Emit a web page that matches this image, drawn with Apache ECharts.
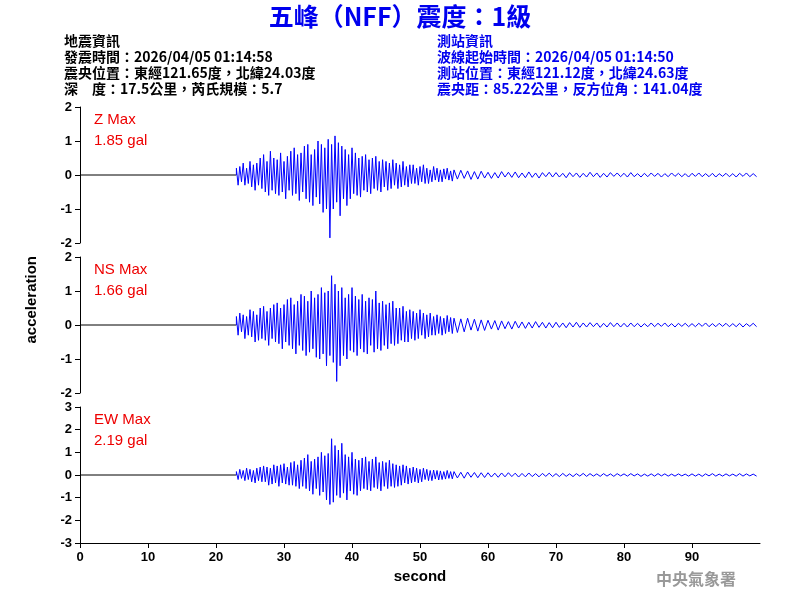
<!DOCTYPE html>
<html><head><meta charset="utf-8">
<script src="https://cdn.jsdelivr.net/npm/echarts@6/dist/echarts.min.js"></script>
<style>html,body{margin:0;padding:0;background:#fff}#c{width:800px;height:600px}</style>
</head><body><div id="c"></div>
<script>
// fine samples: t = 23 .. 54.75 step 0.25 ; coarse samples: t = 55 .. 99.5 step 0.5
const fineStart = 23, fineStep = 0.25, coarseStart = 55, coarseStep = 0.5;
const zFine = [0.2,-0.3,0.25,-0.2,0.35,-0.3,0.2,-0.25, 0.4,-0.35,0.3,-0.45,0.35,-0.3,0.5,-0.4,
0.6,-0.5,0.4,-0.6,0.7,-0.45,0.5,-0.55, 0.45,-0.6,0.65,-0.5,0.4,-0.7,0.55,-0.45,
0.7,-0.6,0.8,-0.55,0.6,-0.75,0.65,-0.5, 0.85,-0.7,0.9,-0.8,0.6,-0.9,0.75,-0.65,
1.0,-0.85,0.9,-1.1,0.8,-1.0,1.05,-1.85, 0.9,-1.0,1.15,-0.8,0.95,-1.2,0.85,-0.7,
0.75,-0.9,0.6,-0.7,0.8,-0.55,0.65,-0.6, 0.5,-0.65,0.55,-0.45,0.6,-0.5,0.45,-0.55,
0.5,-0.4,0.55,-0.45,0.4,-0.5,0.45,-0.35, 0.4,-0.45,0.35,-0.4,0.45,-0.3,0.35,-0.4,
0.3,-0.35,0.4,-0.3,0.25,-0.35,0.3,-0.25, 0.3,-0.25,0.2,-0.3,0.25,-0.2,0.3,-0.25,
0.2,-0.25,0.15,-0.2,0.25,-0.15,0.2,-0.2, 0.15,-0.2,0.18,-0.12,0.2,-0.15,0.12,-0.18];
const zCoarse = [0.15,-0.12,0.14,-0.1,0.12,-0.13,0.1,-0.12,0.11,-0.09,
0.08,-0.1,0.07,-0.09,0.1,-0.06,0.08,-0.07,0.09,-0.08, 0.06,-0.08,0.09,-0.07,0.06,-0.09,0.07,-0.05,0.08,-0.06,
0.07,-0.06,0.05,-0.08,0.07,-0.05,0.06,-0.07,0.05,-0.06, 0.08,-0.05,0.06,-0.07,0.05,-0.06,0.07,-0.04,0.06,-0.05,
0.05,-0.06,0.07,-0.05,0.04,-0.06,0.05,-0.05,0.06,-0.04, 0.05,-0.06,0.04,-0.05,0.06,-0.04,0.05,-0.05,0.04,-0.06,
0.05,-0.04,0.06,-0.05,0.04,-0.05,0.05,-0.06,0.04,-0.04, 0.05,-0.05,0.04,-0.06,0.05,-0.04,0.06,-0.05,0.04,-0.05];
const nsFine = [0.25,-0.3,0.35,-0.2,0.3,-0.4,0.25,-0.3, 0.45,-0.35,0.4,-0.5,0.3,-0.45,0.5,-0.4,
0.55,-0.45,0.4,-0.6,0.5,-0.4,0.6,-0.5, 0.65,-0.55,0.5,-0.7,0.6,-0.5,0.75,-0.6,
0.8,-0.7,0.6,-0.85,0.7,-0.6,0.9,-0.75, 0.85,-0.9,0.7,-0.8,1.0,-0.7,0.8,-0.95,
0.9,-1.0,1.1,-0.85,0.95,-1.2,1.0,-0.9, 1.45,-1.1,1.2,-1.66,1.0,-1.2,1.1,-0.9,
0.8,-1.0,0.9,-0.75,1.1,-0.8,0.85,-0.9, 0.75,-0.7,0.9,-0.8,0.7,-0.85,0.8,-0.6,
0.75,-0.8,1.0,-0.7,0.65,-0.75,0.7,-0.6, 0.6,-0.7,0.65,-0.55,0.7,-0.6,0.5,-0.55,
0.5,-0.45,0.55,-0.5,0.4,-0.5,0.45,-0.4, 0.4,-0.45,0.35,-0.4,0.45,-0.3,0.35,-0.4,
0.3,-0.35,0.35,-0.3,0.25,-0.3,0.3,-0.25, 0.25,-0.3,0.2,-0.25,0.28,-0.2,0.22,-0.25];
const nsCoarse = [0.2,-0.22,0.18,-0.2,0.2,-0.15,0.17,-0.18,0.15,-0.16,
0.14,-0.12,0.13,-0.15,0.12,-0.11,0.1,-0.12,0.11,-0.09, 0.09,-0.1,0.08,-0.09,0.1,-0.07,0.08,-0.09,0.07,-0.08,
0.08,-0.07,0.06,-0.08,0.07,-0.06,0.08,-0.07,0.06,-0.06, 0.07,-0.05,0.06,-0.07,0.05,-0.06,0.07,-0.05,0.06,-0.06,
0.05,-0.06,0.06,-0.05,0.05,-0.06,0.04,-0.05,0.06,-0.05, 0.05,-0.04,0.06,-0.05,0.04,-0.06,0.05,-0.04,0.05,-0.05,
0.04,-0.05,0.05,-0.04,0.06,-0.05,0.04,-0.05,0.05,-0.04, 0.05,-0.05,0.04,-0.05,0.05,-0.06,0.04,-0.04,0.05,-0.05];
const ewFine = [0.15,-0.2,0.25,-0.15,0.2,-0.25,0.3,-0.2, 0.25,-0.3,0.2,-0.35,0.3,-0.25,0.35,-0.3,
0.4,-0.3,0.35,-0.45,0.3,-0.4,0.45,-0.35, 0.4,-0.5,0.45,-0.35,0.5,-0.4,0.35,-0.45,
0.55,-0.45,0.6,-0.5,0.45,-0.6,0.65,-0.5, 0.75,-0.6,0.9,-0.7,0.6,-0.85,0.7,-0.6,
0.8,-0.9,1.0,-0.75,0.85,-1.1,0.95,-1.3, 1.6,-1.2,1.3,-0.9,1.1,-1.0,1.4,-0.8,
0.9,-1.1,0.8,-0.7,1.0,-0.85,0.7,-0.9, 0.65,-0.7,0.75,-0.6,0.8,-0.65,0.6,-0.7,
0.7,-0.55,0.8,-0.6,0.55,-0.7,0.6,-0.5, 0.55,-0.6,0.65,-0.5,0.5,-0.55,0.45,-0.5,
0.4,-0.45,0.45,-0.35,0.4,-0.4,0.3,-0.35, 0.35,-0.3,0.3,-0.35,0.25,-0.3,0.3,-0.2,
0.25,-0.25,0.2,-0.25,0.22,-0.18,0.2,-0.22, 0.18,-0.2,0.15,-0.18,0.2,-0.15,0.15,-0.17];
const ewCoarse = [0.15,-0.13,0.12,-0.14,0.13,-0.1,0.11,-0.12,0.1,-0.11,
0.1,-0.09,0.08,-0.1,0.09,-0.08,0.1,-0.07,0.08,-0.09, 0.07,-0.08,0.09,-0.07,0.06,-0.08,0.07,-0.06,0.08,-0.07,
0.06,-0.07,0.07,-0.06,0.05,-0.07,0.06,-0.05,0.07,-0.06, 0.06,-0.05,0.05,-0.06,0.06,-0.05,0.05,-0.06,0.06,-0.04,
0.05,-0.05,0.06,-0.04,0.05,-0.06,0.04,-0.05,0.05,-0.05, 0.06,-0.04,0.05,-0.05,0.04,-0.05,0.05,-0.04,0.04,-0.05,
0.05,-0.05,0.04,-0.06,0.05,-0.04,0.06,-0.05,0.04,-0.05, 0.05,-0.04,0.04,-0.05,0.06,-0.05,0.05,-0.04,0.04,-0.05];
const quietEnd = 23;
const xTicks = ['0','10','20','30','40','50','60','70','80','90'];
const panelNames = ['Z Max','NS Max','EW Max'];
const panelPeaks = ['1.85 gal','1.66 gal','2.19 gal'];
const panelRanges = [2,2,3];

function build(fine, coarse){
  const d = [[quietEnd,0]];
  fine.forEach((v,i)=>d.push([fineStart+i*fineStep, v]));
  coarse.forEach((v,i)=>d.push([coarseStart+i*coarseStep, v]));
  return d;
}
const traces = [build(zFine,zCoarse), build(nsFine,nsCoarse), build(ewFine,ewCoarse)];
const tops = [107,257,407];
const F = '"Noto Sans CJK TC", sans-serif';
const grids=[],xAxes=[],yAxes=[],series=[],graphics=[];
for(let i=0;i<3;i++){
  grids.push({left:80,right:40,top:tops[i],height:136});
  const bottom = i===2;
  xAxes.push({type:'value',gridIndex:i,min:0,max:100,interval:10,
    axisLine:{show:bottom,onZero:false,lineStyle:{color:'#000'}},
    axisTick:{show:bottom,length:5,lineStyle:{color:'#000'}},
    axisLabel:{show:bottom,showMaxLabel:false,color:'#000',fontSize:13,fontWeight:'bold',fontFamily:'Arial',
      formatter:v=>xTicks[Math.round(v/10)]||''},
    splitLine:{show:false},
    name:bottom?'second':'',nameLocation:'middle',nameGap:26,
    nameTextStyle:{color:'#000',fontSize:15,fontWeight:'bold',fontFamily:'Arial'}});
  const r = panelRanges[i];
  yAxes.push({type:'value',gridIndex:i,min:-r,max:r,interval:1,
    axisLine:{show:true,lineStyle:{color:'#000'}},axisTick:{show:true,length:5,lineStyle:{color:'#000'}},
    axisLabel:{color:'#000',fontSize:13,fontWeight:'bold',fontFamily:'Arial',margin:8},splitLine:{show:false}});
  series.push({type:'line',xAxisIndex:i,yAxisIndex:i,data:[[0,0],[quietEnd,0]],showSymbol:false,
    lineStyle:{color:'#000',width:1},animation:false});
  series.push({type:'line',xAxisIndex:i,yAxisIndex:i,data:traces[i],showSymbol:false,
    lineStyle:{color:'#0000ff',width:1},animation:false});
  graphics.push({type:'text',left:94,top:tops[i]+2,style:{text:panelNames[i]+'\n'+panelPeaks[i],fill:'#ee0000',font:'15px Arial',lineHeight:21}});
}
graphics.push({type:'text',left:'center',top:4,style:{text:'五峰（NFF）震度：1級',fill:'#0000ee',font:'bold 25px '+F}});
graphics.push({type:'text',left:64,top:33,style:{text:'地震資訊\n發震時間：2026/04/05 01:14:58\n震央位置：東經121.65度，北緯24.03度\n深　度：17.5公里，芮氏規模：5.7',fill:'#000',font:'bold 14px '+F,lineHeight:16}});
graphics.push({type:'text',left:437,top:33,style:{text:'測站資訊\n波線起始時間：2026/04/05 01:14:50\n測站位置：東經121.12度，北緯24.63度\n震央距：85.22公里，反方位角：141.04度',fill:'#0000ee',font:'bold 14px '+F,lineHeight:16}});
graphics.push({type:'text',left:24,top:256,rotation:Math.PI/2,style:{text:'acceleration',fill:'#000',font:'bold 15px Arial'}});
graphics.push({type:'text',left:656,top:571,style:{text:'中央氣象署',fill:'#999',font:'bold 16px '+F}});
const chart = echarts.init(document.getElementById('c'));
chart.setOption({animation:false,grid:grids,xAxis:xAxes,yAxis:yAxes,series:series,graphic:graphics});
</script></body></html>
